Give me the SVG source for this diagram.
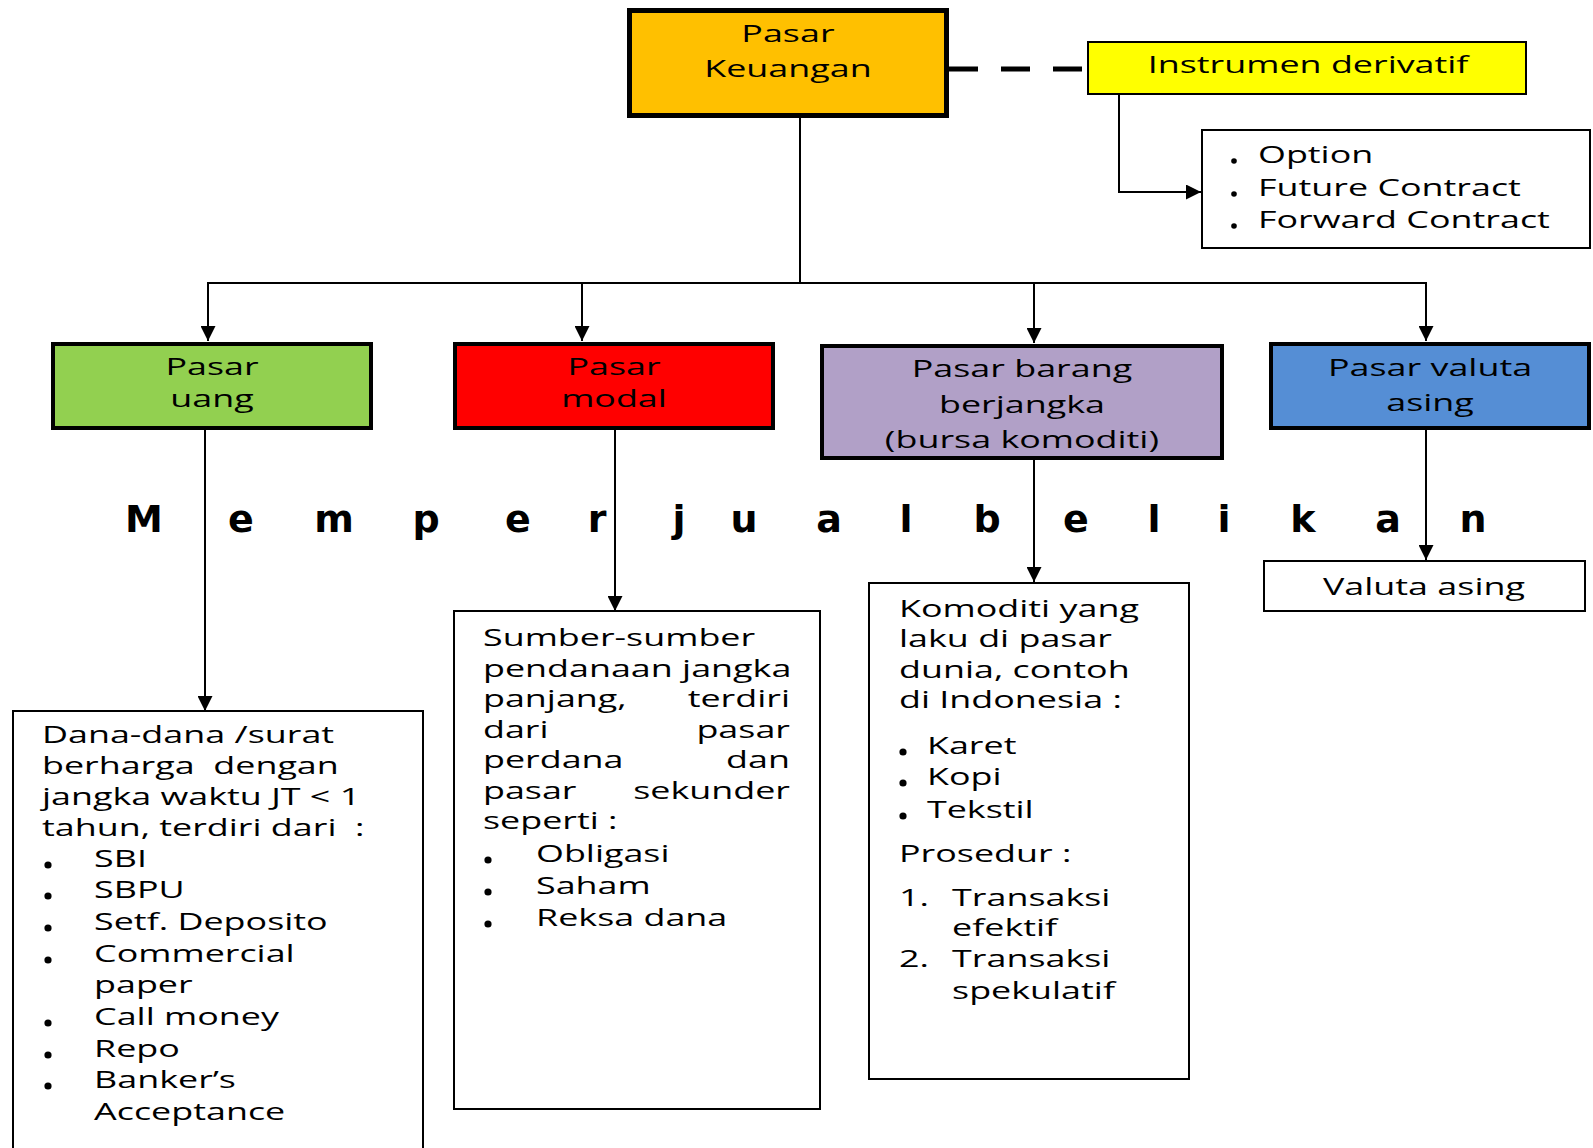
<svg xmlns="http://www.w3.org/2000/svg" width="1593" height="1148" viewBox="0 0 1593 1148">
<style>
.t{font-family:"Open Sans","Noto Sans","DejaVu Sans",sans-serif;font-size:23px;fill:#000;white-space:pre}
.c{text-anchor:middle}
.e{text-anchor:end}
.ln{stroke:#000;stroke-width:2;fill:none}
.box{stroke:#000;stroke-width:2;fill:#fff}
.hb{stroke:#000;stroke-width:4}
.big{font-family:"DejaVu Sans",sans-serif;font-weight:bold;font-size:38px;fill:#000;text-anchor:middle}
</style>
<defs>
<marker id="arr" markerUnits="userSpaceOnUse" viewBox="0 0 10 10" refX="10" refY="5" markerWidth="15" markerHeight="15" orient="auto">
<path d="M0,0 L10,5 L0,10 z" fill="#000"/>
</marker>
</defs>
<rect width="1593" height="1148" fill="#fff"/>

<g id="connectors">
<line x1="949" y1="69" x2="1087" y2="69" stroke="#000" stroke-width="5" stroke-dasharray="29 23"/>
<polyline class="ln" points="1119,94 1119,192 1201,192" marker-end="url(#arr)"/>
<line class="ln" x1="800" y1="118" x2="800" y2="283"/>
<line class="ln" x1="207" y1="283" x2="1427" y2="283"/>
<line class="ln" x1="208" y1="283" x2="208" y2="341" marker-end="url(#arr)"/>
<line class="ln" x1="582" y1="283" x2="582" y2="341" marker-end="url(#arr)"/>
<line class="ln" x1="1034" y1="283" x2="1034" y2="343" marker-end="url(#arr)"/>
<line class="ln" x1="1426" y1="283" x2="1426" y2="341" marker-end="url(#arr)"/>
<line class="ln" x1="205" y1="430" x2="205" y2="711" marker-end="url(#arr)"/>
<line class="ln" x1="615" y1="430" x2="615" y2="611" marker-end="url(#arr)"/>
<line class="ln" x1="1034" y1="460" x2="1034" y2="582" marker-end="url(#arr)"/>
<line class="ln" x1="1426" y1="430" x2="1426" y2="560" marker-end="url(#arr)"/>
</g>

<g id="pasar-keuangan">
<rect x="629.5" y="10.5" width="317" height="105" fill="#FFC000" stroke="#000" stroke-width="5"/>
<g transform="scale(1.56 1)"><text class="t c" x="505.1" y="42">Pasar</text><text class="t c" x="505.1" y="77">Keuangan</text></g>
</g>

<g id="instrumen-derivatif">
<rect x="1088" y="42" width="438" height="52" fill="#FFFF00" stroke="#000" stroke-width="2"/>
<g transform="scale(1.56 1)"><text class="t c" x="838.5" y="73">Instrumen derivatif</text></g>
</g>

<g id="derivatif-list">
<rect class="box" x="1202" y="130" width="388" height="118"/>
<circle cx="1234" cy="161" r="2.8"/><circle cx="1234" cy="194" r="2.8"/><circle cx="1234" cy="226" r="2.8"/>
<g transform="scale(1.56 1)">
<text class="t" x="806.4" y="163">Option</text>
<text class="t" x="806.4" y="196">Future Contract</text>
<text class="t" x="806.4" y="228">Forward Contract</text>
</g>
</g>

<g id="pasar-uang">
<rect x="53" y="344" width="318" height="84" fill="#92D050" class="hb"/>
<g transform="scale(1.56 1)"><text class="t c" x="135.9" y="375">Pasar</text><text class="t c" x="135.9" y="407">uang</text></g>
</g>

<g id="pasar-modal">
<rect x="455" y="344" width="318" height="84" fill="#FF0000" class="hb"/>
<g transform="scale(1.56 1)"><text class="t c" x="393.6" y="375">Pasar</text><text class="t c" x="393.6" y="407">modal</text></g>
</g>

<g id="pasar-barang">
<rect x="822" y="346" width="400" height="112" fill="#B1A0C7" class="hb"/>
<g transform="scale(1.56 1)"><text class="t c" x="655.1" y="377">Pasar barang</text><text class="t c" x="655.1" y="413">berjangka</text><text class="t c" x="655.1" y="448">(bursa komoditi)</text></g>
</g>

<g id="pasar-valuta">
<rect x="1271" y="344" width="318" height="84" fill="#558ED5" class="hb"/>
<g transform="scale(1.56 1)"><text class="t c" x="916.7" y="376">Pasar valuta</text><text class="t c" x="916.7" y="411">asing</text></g>
</g>

<g id="label-memperjualbelikan">
<text class="big" x="144 241 334 426 518 597 679 744 829 906 987 1076 1154 1224 1303 1388 1473" y="532">Memperjualbelikan</text>
</g>

<g id="detail-uang">
<rect class="box" x="13" y="711" width="410" height="460"/>
<circle cx="48" cy="865" r="3.6"/><circle cx="48" cy="896" r="3.6"/><circle cx="48" cy="928" r="3.6"/><circle cx="48" cy="960" r="3.6"/><circle cx="48" cy="1023" r="3.6"/><circle cx="48" cy="1055" r="3.6"/><circle cx="48" cy="1086" r="3.6"/>
<g transform="scale(1.56 1)">
<text class="t" x="26.9" y="743">Dana-dana /surat</text>
<text class="t" x="26.9" y="774">berharga  dengan</text>
<text class="t" x="26.9" y="805">jangka waktu JT &lt; 1</text>
<text class="t" x="26.9" y="836">tahun, terdiri dari  :</text>
<text class="t" x="60.3" y="867">SBI</text>
<text class="t" x="60.3" y="898">SBPU</text>
<text class="t" x="60.3" y="930">Setf. Deposito</text>
<text class="t" x="60.3" y="962">Commercial</text>
<text class="t" x="60.3" y="993">paper</text>
<text class="t" x="60.3" y="1025">Call money</text>
<text class="t" x="60.3" y="1057">Repo</text>
<text class="t" x="60.3" y="1088">Banker’s</text>
<text class="t" x="60.3" y="1120">Acceptance</text>
</g>
</g>

<g id="detail-modal">
<rect class="box" x="454" y="611" width="366" height="498"/>
<circle cx="488" cy="860" r="3.6"/><circle cx="488" cy="892" r="3.6"/><circle cx="488" cy="924" r="3.6"/>
<g transform="scale(1.56 1)">
<text class="t" x="309.6" y="646">Sumber-sumber</text>
<text class="t" x="309.6" y="677">pendanaan jangka</text>
<text class="t" x="309.6" y="707">panjang,</text><text class="t e" x="506.4" y="707">terdiri</text>
<text class="t" x="309.6" y="738">dari</text><text class="t e" x="506.4" y="738">pasar</text>
<text class="t" x="309.6" y="768">perdana</text><text class="t e" x="506.4" y="768">dan</text>
<text class="t" x="309.6" y="799">pasar</text><text class="t e" x="506.4" y="799">sekunder</text>
<text class="t" x="309.6" y="829">seperti :</text>
<text class="t" x="343.6" y="862">Obligasi</text>
<text class="t" x="343.6" y="894">Saham</text>
<text class="t" x="343.6" y="926">Reksa dana</text>
</g>
</g>

<g id="detail-barang">
<rect class="box" x="869" y="583" width="320" height="496"/>
<circle cx="903" cy="752" r="3.6"/><circle cx="903" cy="783" r="3.6"/><circle cx="903" cy="816" r="3.6"/>
<g transform="scale(1.56 1)">
<text class="t" x="576.3" y="617">Komoditi yang</text>
<text class="t" x="576.3" y="647">laku di pasar</text>
<text class="t" x="576.3" y="678">dunia, contoh</text>
<text class="t" x="576.3" y="708">di Indonesia :</text>
<text class="t" x="594.2" y="754">Karet</text>
<text class="t" x="594.2" y="785">Kopi</text>
<text class="t" x="594.2" y="818">Tekstil</text>
<text class="t" x="576.3" y="862">Prosedur :</text>
<text class="t" x="576.3" y="906">1.</text><text class="t" x="610.3" y="906">Transaksi</text>
<text class="t" x="610.3" y="936">efektif</text>
<text class="t" x="576.3" y="967">2.</text><text class="t" x="610.3" y="967">Transaksi</text>
<text class="t" x="610.3" y="999">spekulatif</text>
</g>
</g>

<g id="detail-valuta">
<rect class="box" x="1264" y="561" width="321" height="50"/>
<g transform="scale(1.56 1)"><text class="t c" x="912.8" y="595">Valuta asing</text></g>
</g>
</svg>
